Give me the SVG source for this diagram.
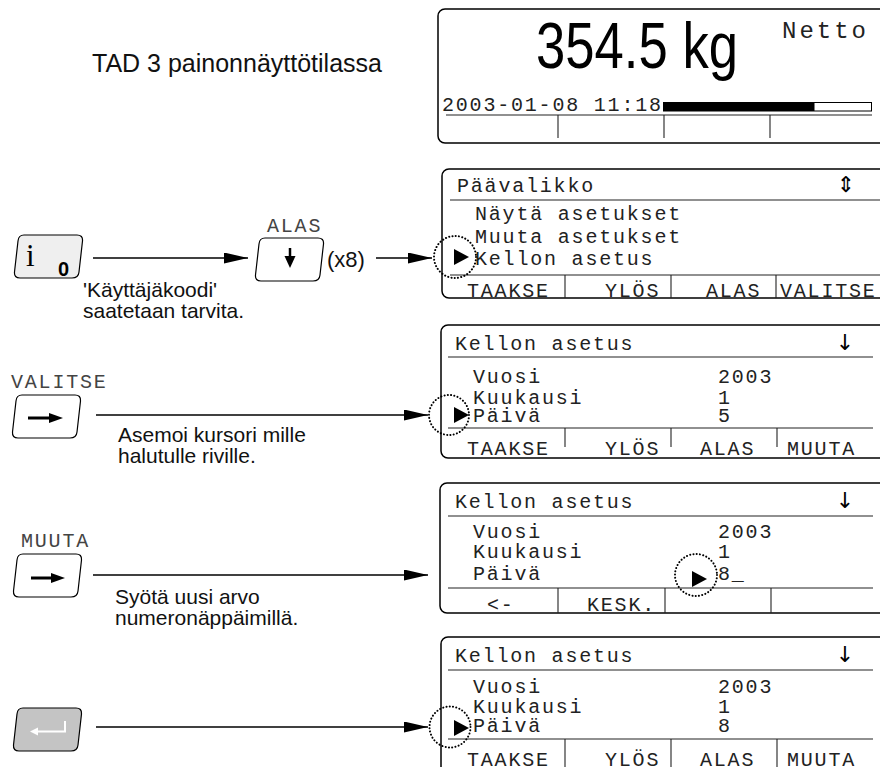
<svg xmlns="http://www.w3.org/2000/svg" width="880" height="767" viewBox="0 0 880 767">
<style>
.box{fill:#fff;stroke:#000;stroke-width:1.5}
.ln{stroke:#222;stroke-width:1.1;fill:none}
.mono{font-family:"Liberation Mono",monospace;font-size:20px;letter-spacing:1.8px;fill:#222}
.lbl{font-family:"Liberation Mono",monospace;font-size:20px;letter-spacing:1.8px;fill:#444}
.sans{font-family:"Liberation Sans",Arial,sans-serif;font-size:21px;fill:#111}
.dot{fill:none;stroke:#000;stroke-width:2;stroke-dasharray:0.1 3.2;stroke-linecap:round}
.key{stroke:#000;stroke-width:1.2}
.conn{stroke:#000;stroke-width:1.3;fill:none;marker-end:url(#ah)}
.sym{font-family:"DejaVu Sans",sans-serif;font-size:22px;fill:#000}
</style>
<defs>
<marker id="ah" markerUnits="userSpaceOnUse" markerWidth="26" markerHeight="12" refX="24" refY="5.5" orient="auto">
<path d="M0,0 L24,5.5 L0,11 Z" fill="#000"/>
</marker>
<path id="keyshape" d="M10,0 H63 Q69,0 68.5,6 L65,37 Q64.5,43 58,43 H6 Q0,43 0.5,37 L4,6 Q4.5,0 10,0 Z"/>
<path id="cur" d="M0,-8 L15,0 L0,8 Z" fill="#000"/>
</defs>

<g id="title">
<text class="sans" x="92" y="72" style="font-size:25px">TAD 3 painonnäyttötilassa</text>
</g>

<g id="display1">
<rect class="box" x="438" y="9" width="460" height="134" rx="7"/>
<text x="536" y="68" textLength="202" lengthAdjust="spacingAndGlyphs" style="font-family:'Liberation Sans',Arial,sans-serif;font-size:64px;fill:#000">354.5 kg</text>
<text x="782" y="38" textLength="84" lengthAdjust="spacing" style="font-family:'Liberation Mono',monospace;font-size:24px;fill:#222">Netto</text>
<text class="mono" x="442" y="111">2003-01-08 11:18</text>
<rect x="663.5" y="102.5" width="208" height="8.5" fill="#fff" stroke="#000" stroke-width="1"/>
<rect x="663.5" y="102.5" width="151" height="8.5" fill="#000"/>
<line class="ln" x1="446" y1="115" x2="872" y2="115"/>
<line class="ln" x1="558" y1="115" x2="558" y2="138"/>
<line class="ln" x1="664" y1="115" x2="664" y2="138"/>
<line class="ln" x1="770" y1="115" x2="770" y2="138"/>
</g>

<g id="display2">
<rect class="box" x="442" y="169" width="460" height="129" rx="7"/>
<text class="mono" x="457" y="192">Päävalikko</text>
<text class="sym" x="846" y="192" text-anchor="middle">⇕</text>
<line class="ln" x1="450" y1="200" x2="880" y2="200"/>
<text class="mono" x="475" y="220">Näytä asetukset</text>
<text class="mono" x="475" y="243">Muuta asetukset</text>
<text class="mono" x="475" y="265">Kellon asetus</text>
<line class="ln" x1="450" y1="275" x2="880" y2="275"/>
<line class="ln" x1="565" y1="275" x2="565" y2="298"/>
<line class="ln" x1="671" y1="275" x2="671" y2="298"/>
<line class="ln" x1="776" y1="275" x2="776" y2="298"/>
<text class="mono" x="467" y="297">TAAKSE</text>
<text class="mono" x="605" y="297">YLÖS</text>
<text class="mono" x="706" y="297">ALAS</text>
<text class="mono" x="780" y="297">VALITSE</text>
<use href="#cur" x="454" y="257"/>
<circle class="dot" cx="455" cy="257" r="21"/>
</g>

<g id="display3">
<rect class="box" x="441" y="325" width="460" height="133" rx="7"/>
<text class="mono" x="455" y="350">Kellon asetus</text>
<text class="sym" x="845" y="350" text-anchor="middle">↓</text>
<line class="ln" x1="448" y1="357" x2="873" y2="357"/>
<text class="mono" x="473" y="383">Vuosi</text>
<text class="mono" x="718" y="383">2003</text>
<text class="mono" x="473" y="404">Kuukausi</text>
<text class="mono" x="718" y="404">1</text>
<text class="mono" x="473" y="422">Päivä</text>
<text class="mono" x="718" y="422">5</text>
<line class="ln" x1="448" y1="428" x2="873" y2="428"/>
<line class="ln" x1="565" y1="428" x2="565" y2="447"/>
<line class="ln" x1="671" y1="428" x2="671" y2="447"/>
<line class="ln" x1="777" y1="428" x2="777" y2="447"/>
<text class="mono" x="467" y="455">TAAKSE</text>
<text class="mono" x="605" y="455">YLÖS</text>
<text class="mono" x="700" y="455">ALAS</text>
<text class="mono" x="787" y="455">MUUTA</text>
<use href="#cur" x="454" y="415"/>
<circle class="dot" cx="449" cy="415" r="20"/>
</g>

<g id="display4">
<rect class="box" x="440" y="483" width="460" height="130" rx="7"/>
<text class="mono" x="455" y="508">Kellon asetus</text>
<text class="sym" x="845" y="508" text-anchor="middle">↓</text>
<line class="ln" x1="448" y1="516" x2="873" y2="516"/>
<text class="mono" x="473" y="538">Vuosi</text>
<text class="mono" x="718" y="538">2003</text>
<text class="mono" x="473" y="558">Kuukausi</text>
<text class="mono" x="718" y="558">1</text>
<text class="mono" x="473" y="580">Päivä</text>
<text class="mono" x="718" y="580">8_</text>
<line class="ln" x1="448" y1="588" x2="873" y2="588"/>
<line class="ln" x1="558" y1="588" x2="558" y2="613"/>
<line class="ln" x1="665" y1="588" x2="665" y2="613"/>
<line class="ln" x1="771" y1="588" x2="771" y2="613"/>
<text class="mono" x="487" y="611">&lt;-</text>
<text class="mono" x="587" y="611">KESK.</text>
<use href="#cur" x="692" y="579"/>
<circle class="dot" cx="696" cy="575" r="21"/>
</g>

<g id="display5">
<rect class="box" x="441" y="637" width="460" height="150" rx="7"/>
<text class="mono" x="455" y="662">Kellon asetus</text>
<text class="sym" x="845" y="662" text-anchor="middle">↓</text>
<line class="ln" x1="448" y1="670" x2="873" y2="670"/>
<text class="mono" x="473" y="693">Vuosi</text>
<text class="mono" x="718" y="693">2003</text>
<text class="mono" x="473" y="713">Kuukausi</text>
<text class="mono" x="718" y="713">1</text>
<text class="mono" x="473" y="732">Päivä</text>
<text class="mono" x="718" y="732">8</text>
<line class="ln" x1="448" y1="739" x2="873" y2="739"/>
<line class="ln" x1="565" y1="739" x2="565" y2="767"/>
<line class="ln" x1="671" y1="739" x2="671" y2="767"/>
<line class="ln" x1="777" y1="739" x2="777" y2="767"/>
<text class="mono" x="467" y="766">TAAKSE</text>
<text class="mono" x="605" y="766">YLÖS</text>
<text class="mono" x="700" y="766">ALAS</text>
<text class="mono" x="787" y="766">MUUTA</text>
<use href="#cur" x="454" y="728"/>
<circle class="dot" cx="450" cy="727" r="20.5"/>
</g>

<g id="key-i">
<use href="#keyshape" x="14" y="235" class="key" fill="#efefef"/>
<text x="26" y="266" style="font-family:'Liberation Serif',serif;font-size:31px;fill:#000">i</text>
<text x="58" y="276" style="font-family:'Liberation Sans',sans-serif;font-size:20px;font-weight:bold;fill:#000">0</text>
<text class="sans" x="83" y="297">'Käyttäjäkoodi'</text>
<text class="sans" x="83" y="318">saatetaan tarvita.</text>
</g>

<g id="key-alas">
<text class="lbl" x="267" y="232">ALAS</text>
<use href="#keyshape" x="255" y="238" class="key" fill="#fff"/>
<line x1="290" y1="248" x2="290" y2="259" stroke="#000" stroke-width="2.5"/>
<path d="M284.5,256 L295.5,256 L290,268 Z" fill="#000"/>
<text class="sans" x="327" y="267" style="font-size:22px">(x8)</text>
</g>

<g id="key-valitse">
<text class="lbl" x="11" y="388">VALITSE</text>
<use href="#keyshape" x="12" y="395" class="key" fill="#fff"/>
<line x1="28" y1="418" x2="53" y2="418" stroke="#000" stroke-width="3"/>
<path d="M49,413 L63,418 L49,423 Z" fill="#000"/>
<text class="sans" x="118" y="442">Asemoi kursori mille</text>
<text class="sans" x="118" y="463">halutulle riville.</text>
</g>

<g id="key-muuta">
<text class="lbl" x="21" y="547">MUUTA</text>
<use href="#keyshape" x="13" y="554" class="key" fill="#fff"/>
<line x1="31" y1="578" x2="55" y2="578" stroke="#000" stroke-width="3"/>
<path d="M51,573 L65,578 L51,583 Z" fill="#000"/>
<text class="sans" x="115" y="604">Syötä uusi arvo</text>
<text class="sans" x="115" y="625">numeronäppäimillä.</text>
</g>

<g id="key-enter">
<use href="#keyshape" x="13" y="708" class="key" fill="#c4c4c4"/>
<polyline points="65,721 65,731.5 36,731.5" fill="none" stroke="#fff" stroke-width="2"/>
<path d="M30,731.5 L38,727.5 L38,735.5 Z" fill="#fff"/>
</g>

<g id="connectors">
<line class="conn" x1="93" y1="258" x2="248" y2="258"/>
<line class="conn" x1="376" y1="258" x2="432" y2="258"/>
<line class="conn" x1="96" y1="415" x2="428" y2="415"/>
<line class="conn" x1="93" y1="575" x2="428" y2="575"/>
<line class="conn" x1="96" y1="727" x2="428" y2="727"/>
</g>
</svg>
